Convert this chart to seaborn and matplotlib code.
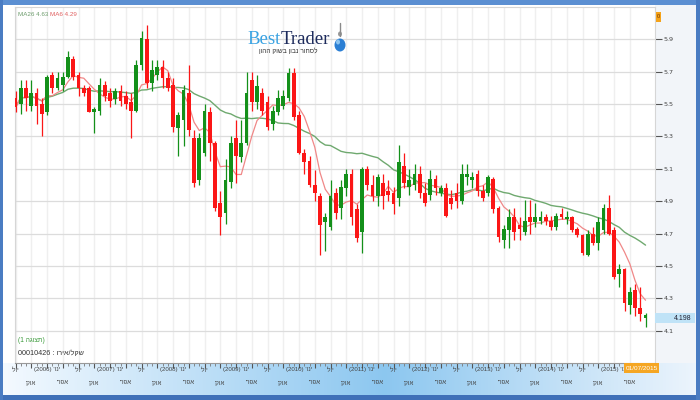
import re
import numpy as np
import pandas as pd
import matplotlib
matplotlib.use("Agg")
import matplotlib.pyplot as plt
import seaborn as sns
from matplotlib.patches import Rectangle, Ellipse
from matplotlib.transforms import blended_transform_factory
from matplotlib import font_manager

# ---------------- data (EUR/ILS monthly candles, Jul 2005 - Jul 2015) ----------------
start_month = "2005-07"
end_month = "2015-07"

open_ = [5.54, 5.50, 5.60, 5.49, 5.57, 5.50, 5.45, 5.68, 5.60, 5.62,
         5.67, 5.78, 5.68, 5.60, 5.60, 5.45, 5.46, 5.62, 5.57, 5.53,
         5.58, 5.55, 5.51, 5.46, 5.74, 5.90, 5.63, 5.68, 5.73, 5.66,
         5.62, 5.35, 5.40, 5.57, 5.29, 5.03, 5.20, 5.45, 5.26, 4.89,
         4.83, 5.02, 5.29, 5.17, 5.26, 5.65, 5.51, 5.57, 5.51, 5.38,
         5.45, 5.49, 5.54, 5.69, 5.43, 5.20, 5.15, 5.00, 4.93, 4.77,
         4.74, 4.95, 4.86, 4.98, 5.07, 4.85, 4.71, 5.10, 5.00, 4.93,
         5.01, 4.96, 4.95, 4.92, 5.12, 4.99, 5.00, 5.07, 4.95, 4.94,
         5.04, 4.95, 4.98, 4.92, 4.95, 4.90, 5.05, 5.03, 5.07, 4.96,
         4.95, 5.04, 4.86, 4.66, 4.72, 4.80, 4.75, 4.71, 4.80, 4.77,
         4.78, 4.80, 4.78, 4.74, 4.82, 4.79, 4.80, 4.73, 4.69, 4.57,
         4.70, 4.64, 4.72, 4.86, 4.72, 4.45, 4.48, 4.26, 4.35, 4.24,
         4.18]
high = [5.58, 5.65, 5.65, 5.65, 5.60, 5.54, 5.68, 5.70, 5.70, 5.70,
        5.83, 5.80, 5.70, 5.62, 5.61, 5.48, 5.66, 5.64, 5.60, 5.60,
        5.62, 5.58, 5.57, 5.77, 5.95, 5.99, 5.77, 5.77, 5.77, 5.70,
        5.66, 5.45, 5.62, 5.74, 5.34, 5.32, 5.50, 5.48, 5.27, 4.96,
        5.16, 5.30, 5.40, 5.40, 5.70, 5.70, 5.68, 5.60, 5.55, 5.49,
        5.59, 5.59, 5.72, 5.72, 5.46, 5.22, 5.18, 5.09, 4.95, 4.83,
        5.03, 4.98, 5.03, 5.10, 5.10, 4.88, 5.11, 5.12, 5.06, 5.07,
        5.07, 5.03, 4.99, 5.25, 5.20, 5.10, 5.13, 5.12, 5.01, 5.09,
        5.06, 5.00, 5.01, 4.97, 5.01, 5.13, 5.13, 5.08, 5.09, 5.00,
        5.06, 5.05, 4.87, 4.75, 4.85, 4.86, 4.80, 4.91, 4.91, 4.89,
        4.84, 4.82, 4.81, 4.83, 4.86, 4.84, 4.81, 4.74, 4.70, 4.72,
        4.74, 4.80, 4.88, 4.94, 4.74, 4.51, 4.49, 4.37, 4.39, 4.37,
        4.21]
low = [5.45, 5.44, 5.46, 5.46, 5.38, 5.30, 5.43, 5.57, 5.59, 5.58,
       5.66, 5.65, 5.55, 5.55, 5.45, 5.32, 5.43, 5.52, 5.48, 5.50,
       5.49, 5.47, 5.29, 5.45, 5.71, 5.60, 5.58, 5.65, 5.60, 5.58,
       5.33, 5.18, 5.24, 5.30, 4.99, 5.00, 5.18, 5.15, 4.84, 4.69,
       4.76, 4.98, 5.01, 5.14, 5.25, 5.46, 5.47, 5.43, 5.34, 5.34,
       5.43, 5.47, 5.52, 5.40, 5.19, 5.07, 4.99, 4.90, 4.57, 4.59,
       4.72, 4.79, 4.79, 4.93, 4.75, 4.65, 4.58, 4.97, 4.90, 4.87,
       4.85, 4.90, 4.82, 4.87, 4.98, 4.94, 4.97, 4.92, 4.87, 4.91,
       4.94, 4.93, 4.80, 4.85, 4.86, 4.88, 5.00, 4.98, 4.93, 4.90,
       4.93, 4.83, 4.65, 4.61, 4.61, 4.66, 4.66, 4.69, 4.70, 4.74,
       4.76, 4.75, 4.72, 4.72, 4.79, 4.76, 4.71, 4.68, 4.57, 4.56,
       4.63, 4.60, 4.70, 4.69, 4.42, 4.37, 4.22, 4.20, 4.19, 4.16,
       4.12]
close = [5.48, 5.60, 5.54, 5.57, 5.49, 5.44, 5.67, 5.60, 5.66, 5.67,
         5.79, 5.67, 5.60, 5.57, 5.45, 5.47, 5.62, 5.55, 5.52, 5.58,
         5.52, 5.50, 5.46, 5.74, 5.91, 5.63, 5.71, 5.73, 5.66, 5.60,
         5.36, 5.43, 5.59, 5.34, 5.01, 5.29, 5.46, 5.26, 4.86, 4.80,
         5.03, 5.26, 5.18, 5.26, 5.57, 5.51, 5.61, 5.46, 5.36, 5.46,
         5.54, 5.55, 5.69, 5.42, 5.20, 5.14, 5.00, 4.95, 4.75, 4.80,
         4.93, 4.83, 4.99, 5.07, 4.80, 4.67, 5.10, 5.00, 4.93, 5.05,
         4.93, 4.94, 4.88, 5.14, 5.01, 5.03, 5.07, 4.95, 4.89, 5.04,
         4.98, 4.98, 4.81, 4.88, 4.90, 5.07, 5.07, 5.05, 4.96, 4.92,
         5.05, 4.85, 4.68, 4.73, 4.80, 4.71, 4.73, 4.78, 4.77, 4.80,
         4.80, 4.78, 4.74, 4.81, 4.80, 4.80, 4.72, 4.69, 4.58, 4.70,
         4.64, 4.77, 4.86, 4.70, 4.43, 4.48, 4.27, 4.34, 4.24, 4.20,
         4.198]

ma_long, ma_short = 26, 6
legend_texts = ["MA26 4.63", "MA6 4.29"]
last_price = "4.198"
last_date = "01/07/2015"
y_ticks = [4.1, 4.3, 4.5, 4.7, 4.9, 5.1, 5.3, 5.5, 5.7, 5.9]
y_tick_labels = ["4.1", "4.3", "4.5", "4.7", "4.9", "5.1", "5.3", "5.5", "5.7", "5.9"]
month_names = {1: "ינו'", 4: "אפר'", 7: "יול'", 10: "אוק'"}
logo_words = ["Best", "Trader"]
logo_slogan = "לסחור נבון בשוק ההון"
view_label = "(תצוגה 1)"
symbol_label = "שקל/אירו : 00010426"


def rtl(s):
    """Logical Hebrew text -> visual order for left-to-right rendering."""
    r = s[::-1].translate(str.maketrans("()", ")("))
    return re.sub(r"[0-9A-Za-z.]+", lambda m: m.group(0)[::-1], r)


months = pd.period_range(start_month, end_month, freq="M")
df = pd.DataFrame({"i": np.arange(len(months)), "open": open_, "high": high,
                   "low": low, "close": close})
df["ma_long"] = df["close"].rolling(ma_long, min_periods=1).mean()
df["ma_short"] = df["close"].rolling(ma_short, min_periods=1).mean()

# ---------------- style ----------------
sns.set_style("white")
names = {f.name for f in font_manager.fontManager.ttflist}
narrow = "Liberation Sans Narrow" if "Liberation Sans Narrow" in names else "Liberation Sans"
plt.rcParams["font.family"] = [narrow, "DejaVu Sans"]

W, H = 700, 400
fig = plt.figure(figsize=(7, 4), dpi=100, facecolor="white")

# background layer (pixel coordinates)
bg = fig.add_axes([0, 0, 1, 1])
bg.set_xlim(0, W)
bg.set_ylim(H, 0)
bg.axis("off")
bg.set_zorder(0)
xs = np.linspace(0, 1, 300)
c_left = np.array([0.96, 0.98, 1.0])
c_mid = np.array([0.55, 0.78, 0.94])
c_right = np.array([0.93, 0.96, 0.99])
grad = np.where(xs[:, None] < 0.55,
                c_left + (c_mid - c_left) * (xs[:, None] / 0.55),
                c_mid + (c_right - c_mid) * ((xs[:, None] - 0.55) / 0.45))
bg.imshow(grad[None, :, :], extent=(0, W, 395, 363), aspect="auto")
bg.add_patch(Rectangle((655, 5), 41, 358, color="#f2f5f9", lw=0))

# main chart axes
ax = fig.add_axes([15 / W, 37 / H, 640 / W, 356 / H])
ax.set_zorder(1)
ax.set_facecolor("white")

up = df["close"] >= df["open"]
colors = np.where(up, "#14901a", "#fb1616")
body_lo = np.minimum(df["open"], df["close"])
body_h = np.maximum(np.abs(df["close"] - df["open"]), 0.006)

sns.lineplot(data=df, x="i", y="ma_long", ax=ax, color="#6fa96f", lw=1.0, zorder=2, legend=False)
sns.lineplot(data=df, x="i", y="ma_short", ax=ax, color="#f08888", lw=0.9, zorder=2, legend=False)
ax.vlines(df["i"], df["low"], df["high"], colors=colors, lw=0.9, zorder=3)
ax.bar(df["i"], body_h, bottom=body_lo, width=0.7, color=colors, lw=0, zorder=4)

ax.set_xlim(-0.1, 121.8)
ax.set_ylim(3.9, 6.1)
ax.set_xlabel("")
ax.set_ylabel("")

# y axis on the right
ax.yaxis.tick_right()
ax.set_yticks(y_ticks, labels=y_tick_labels)
ax.tick_params(axis="y", right=True, left=False, length=5, width=0.8, color="#555555",
               labelsize=5.5, labelcolor="#444444", pad=1)
for t in ax.get_yticklabels():
    t.set_family("DejaVu Sans")
    t.set_fontsize(4.6)

# x axis: monthly minor ticks, quarterly major ticks, two rows of labels
quarter_idx = [k for k, m in enumerate(months) if m.month in month_names and k <= 117]
ax.set_xticks(quarter_idx, labels=[""] * len(quarter_idx))
ax.set_xticks(np.arange(len(months)), minor=True)
ax.tick_params(axis="x", which="major", bottom=True, length=3.5, width=0.8, color="#555555")
ax.tick_params(axis="x", which="minor", bottom=True, length=2, width=0.6, color="#777777")
trans = blended_transform_factory(ax.transData, ax.transAxes)
for k in quarter_idx:
    m = months[k]
    name = month_names[m.month]
    if m.month == 1:
        label = f"{name} ({m.year})"
    else:
        label = name
    row_y = -7 / 356 if m.month in (1, 7) else -20 / 356
    ax.text(k, row_y, rtl(label), transform=trans, ha="center", va="center",
            fontsize=4.4, color="#444444", clip_on=False)

ax.grid(False)
ax.yaxis.grid(True, color="#dcdcdc", lw=0.9, zorder=0)
ax.xaxis.grid(True, color="#efefef", lw=1.0, zorder=0)
ax.set_axisbelow(True)
for side in ("top", "left", "right"):
    ax.spines[side].set_color("#d6d6d6")
    ax.spines[side].set_linewidth(0.8)
ax.spines["bottom"].set_color("#999999")
ax.spines["bottom"].set_linewidth(0.8)

# overlay layer (pixel coordinates) for frame, boxes, logo and labels
ov = fig.add_axes([0, 0, 1, 1])
ov.set_xlim(0, W)
ov.set_ylim(H, 0)
ov.axis("off")
ov.set_zorder(2)
ov.patch.set_alpha(0)

ov.add_patch(Rectangle((0, 0), W, 5, color="#5b8fd2", lw=0))
ov.add_patch(Rectangle((0, 395), W, 5, color="#3f70b8", lw=0))
ov.add_patch(Rectangle((0, 0), 3, H, color="#4a7cc2", lw=0))
ov.add_patch(Rectangle((696, 0), 4, H, color="#4a7cc2", lw=0))

ov.text(18, 14, legend_texts[0], color="#6c9c6c", fontsize=4.5, va="center")
ov.text(50, 14, legend_texts[1], color="#e06060", fontsize=4.5, va="center")

ov.text(247, 44, logo_words[0], color="#39a2e2", fontsize=13.5, family="Liberation Serif", va="baseline")
ov.text(281, 44, logo_words[1], color="#1d2b5c", fontsize=13.5, family="Liberation Serif", va="baseline")
ov.text(288, 52, rtl(logo_slogan), color="#333333", fontsize=4.8, ha="center", va="center")
ov.plot([340, 340], [23, 36], color="#8a8a8a", lw=1.0)
ov.add_patch(Ellipse((340, 34), 4, 5, color="#9a9a9a", lw=0))
ov.add_patch(Ellipse((340, 45), 11, 13, color="#2b7fd4", lw=0))
ov.add_patch(Ellipse((338, 42), 4, 5, color="#8cc4f0", lw=0))

ov.add_patch(Rectangle((655.5, 12), 5.5, 10, color="#f5a31a", lw=0))
ov.text(658.2, 17, "0", color="#6a3000", fontsize=4, ha="center", va="center")

ov.add_patch(Rectangle((655, 313), 40, 10, color="#c0e3f7", lw=0))
ov.text(692, 318, last_price, color="#222233", fontsize=5, ha="right", va="center")

ov.add_patch(Rectangle((624, 363), 35, 10, color="#f5a623", lw=0))
ov.text(641.5, 368, last_date, color="white", fontsize=4.6, ha="center", va="center")

ov.text(18, 341, rtl(view_label), color="#3a9a3a", fontsize=4.8, va="center")
ov.text(18, 353, rtl(symbol_label), color="#333333", fontsize=5.2, va="center")

fig.savefig("out.png", dpi=100, facecolor=fig.get_facecolor())
